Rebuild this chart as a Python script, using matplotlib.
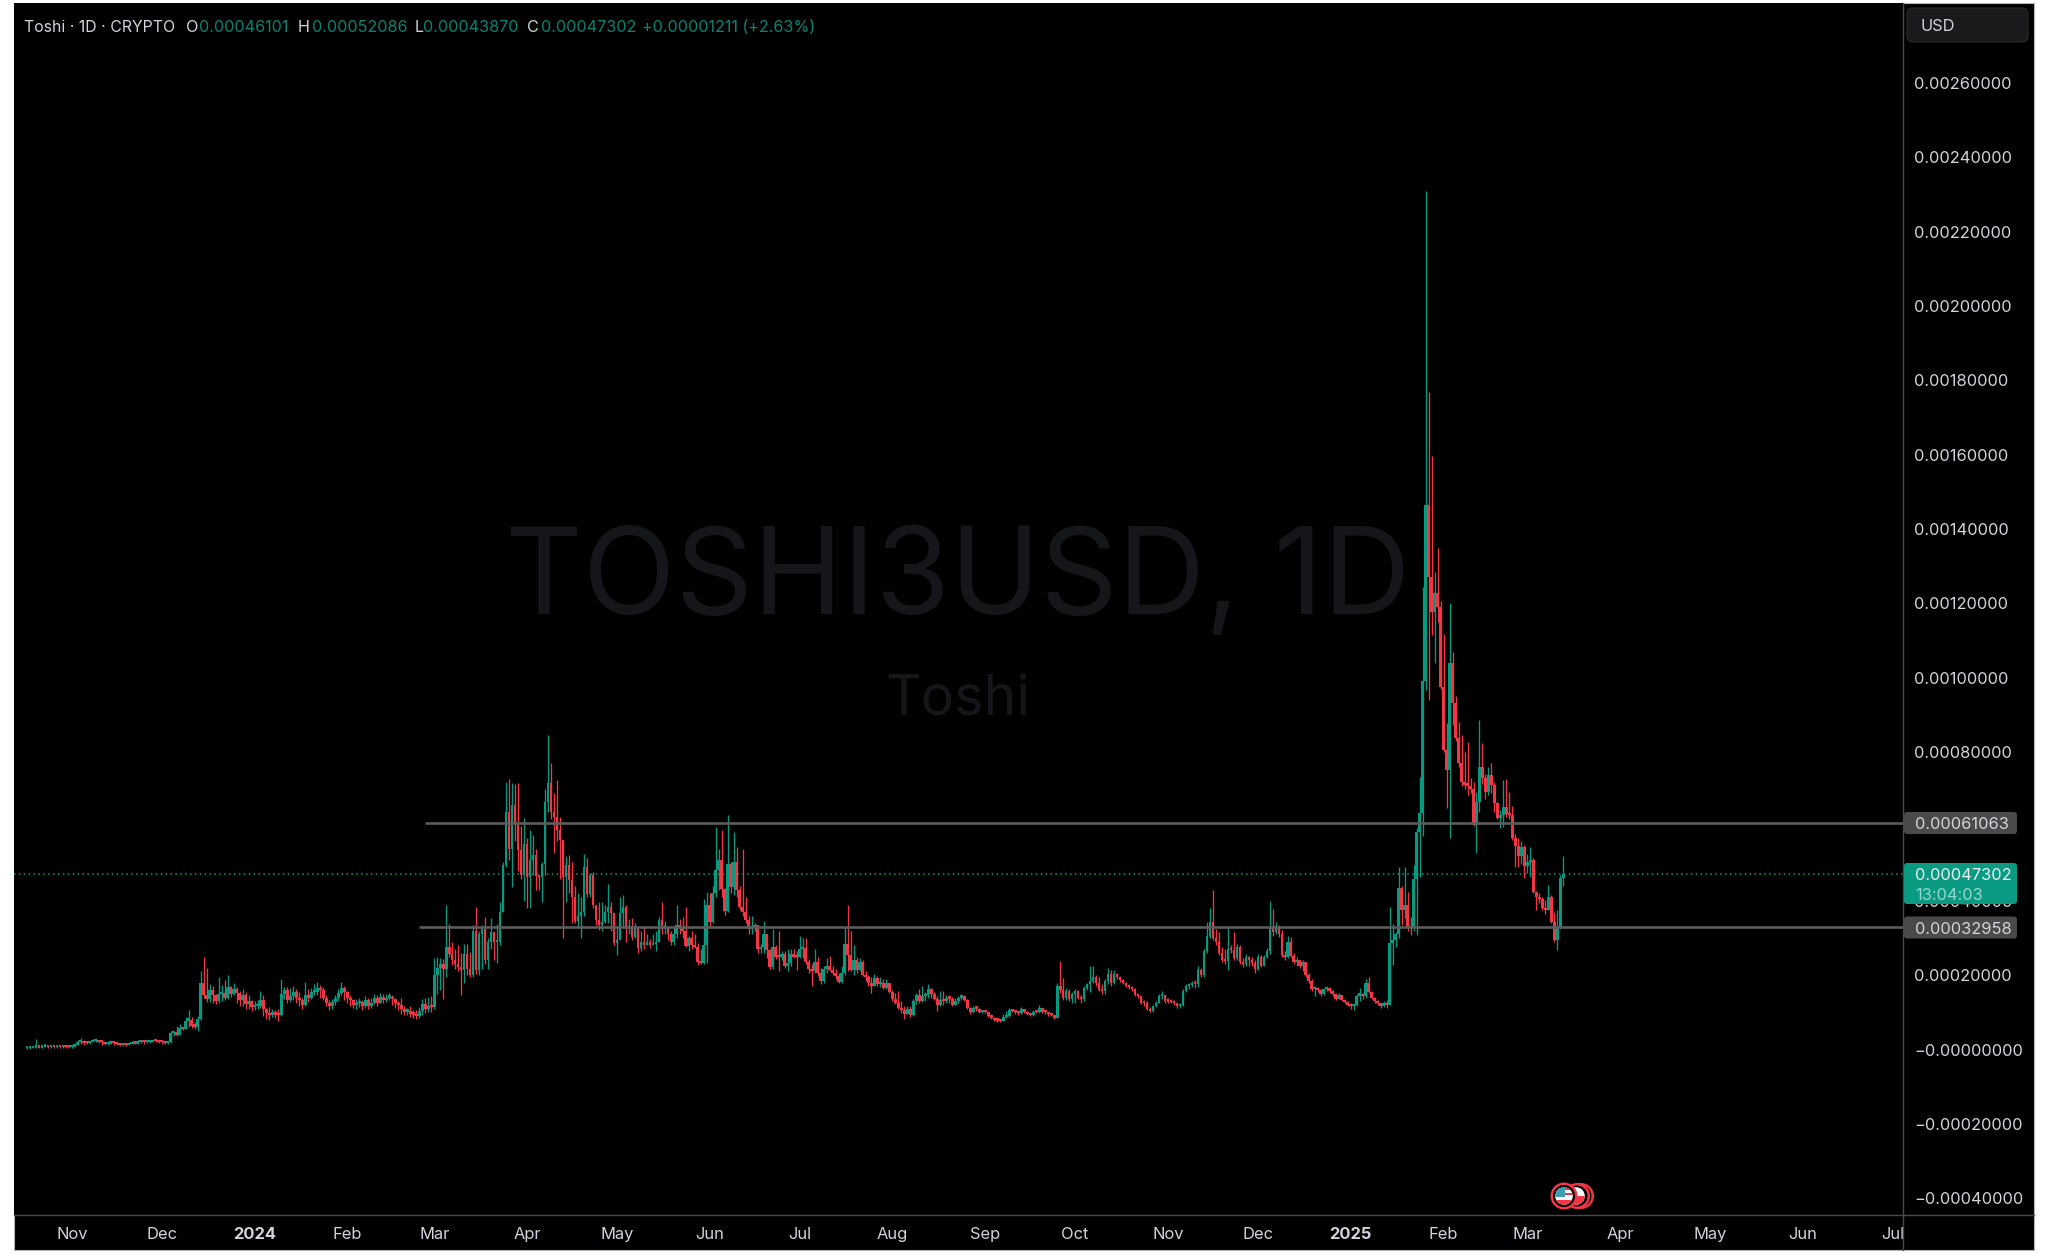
"""
Toshi / USD daily candles on a dark trading-terminal style chart.
Values are read off the picture, in units of 1e-5 USD.
"""
import matplotlib
matplotlib.use("Agg")
import matplotlib.dates as mdates
import matplotlib.pyplot as plt
import matplotlib.transforms as mtransforms
import numpy as np
import pandas as pd
from matplotlib.patches import Circle, FancyBboxPatch, Rectangle

plt.rcParams['font.family'] = ['Inter', 'DejaVu Sans']

closes = [
    0.4,0.4,0.5,0.6,0.5,0.8,0.9,0.7,0.8,0.6,
    0.7,0.6,0.8,0.7,0.6,0.8,1.3,2.1,2.3,1.8,
    1.7,2.0,2.3,2.5,2.1,1.9,1.5,1.6,1.8,1.7,
    1.4,1.2,1.3,1.2,1.5,1.7,1.6,2.0,2.2,1.9,
    1.9,2.1,2.3,2.2,2.0,1.9,1.8,1.9,4.4,4.5,
    4.0,5.8,5.6,7.8,8.0,6.4,6.2,8.2,18.0,14.8,
    13.5,16.0,14.8,13.0,14.9,15.2,14.0,16.8,15.0,16.2,
    15.2,13.2,14.6,12.2,13.0,11.4,11.6,11.8,13.2,10.8,
    9.8,9.2,10.0,9.4,9.2,15.0,16.0,13.4,14.4,15.6,
    13.8,13.2,12.0,14.6,14.0,15.4,15.6,16.6,16.0,14.0,
    12.4,11.6,12.8,14.0,15.2,16.6,15.4,14.0,13.2,12.0,
    12.4,12.8,11.8,13.2,11.8,12.6,13.8,12.6,14.2,13.4,
    14.0,14.2,13.6,12.4,12.0,10.8,10.2,10.4,9.6,9.4,
    9.0,10.4,12.2,11.0,11.6,11.4,20.0,22.0,23.0,21.6,
    27.6,25.8,24.0,23.0,22.2,21.4,25.8,21.8,20.0,32.0,
    21.3,31.0,32.5,24.0,28.8,31.6,29.0,29.0,37.0,49.6,
    64.0,54.0,65.7,60.8,53.6,47.0,55.4,46.5,51.0,52.3,
    46.8,46.4,50.0,66.6,71.6,64.0,62.5,59.0,56.3,46.5,
    49.6,45.6,41.0,34.5,36.0,37.0,49.0,41.9,47.0,38.8,
    34.8,33.6,34.4,37.0,38.4,36.6,28.6,29.4,36.6,38.4,
    32.6,33.0,30.4,33.0,27.3,29.0,28.2,29.0,28.0,28.4,
    29.0,34.8,33.0,33.0,31.0,28.8,31.0,33.6,32.8,31.8,
    27.8,30.0,28.0,27.6,23.6,23.2,28.0,38.8,34.2,42.0,
    48.2,51.0,43.3,37.4,50.0,43.6,50.5,42.9,38.4,37.0,
    34.8,32.5,33.0,33.6,27.0,27.6,31.0,26.7,22.2,27.6,
    25.0,24.8,25.6,22.6,23.4,25.6,25.0,24.8,27.0,27.2,
    23.6,21.6,21.2,23.5,20.5,18.5,21.6,22.5,21.5,20.6,
    19.8,18.2,20.7,28.5,25.5,21.5,24.0,21.5,23.6,20.0,
    19.5,18.0,17.1,19.2,17.6,17.8,16.5,18.0,15.5,13.5,
    12.6,11.2,10.7,9.5,11.0,9.2,13.0,14.8,13.0,14.4,
    14.6,16.2,15.0,13.5,12.0,13.2,13.0,14.0,13.7,12.1,
    13.0,14.0,14.4,13.3,11.2,10.2,11.3,11.0,10.0,10.1,
    10.0,9.0,8.6,7.9,7.8,7.7,8.8,9.0,10.6,10.4,
    10.0,9.7,10.9,10.1,9.6,9.2,10.2,10.0,11.2,10.2,
    10.0,9.5,9.2,8.6,17.0,16.0,13.9,15.8,13.6,15.0,
    15.7,14.0,13.6,16.5,17.5,18.5,19.6,18.0,16.0,15.8,
    18.5,20.4,17.8,20.3,19.5,18.8,18.0,17.2,16.7,16.3,
    14.6,14.3,12.6,12.4,11.0,10.4,11.7,12.6,14.4,14.6,
    13.0,12.9,12.8,12.4,11.6,12.0,15.8,17.0,17.3,18.0,
    17.5,21.5,20.0,26.5,30.6,34.2,30.0,29.0,26.0,24.0,
    23.8,27.0,26.8,24.5,27.5,23.5,23.0,24.8,24.0,23.4,
    21.6,25.0,22.5,25.0,26.5,33.0,31.5,33.2,31.0,25.5,
    24.8,29.0,25.2,23.5,24.0,22.5,23.5,20.0,18.5,16.2,
    16.5,16.0,15.0,16.2,16.5,15.8,15.0,13.7,14.6,13.4,
    12.8,12.0,11.6,12.0,14.5,14.8,14.4,18.0,15.5,14.0,
    13.0,12.4,11.7,12.6,12.0,28.6,29.6,31.0,43.4,37.5,
    38.9,33.0,32.6,46.0,58.6,63.5,99.0,146.5,127.0,117.8,
    122.7,119.0,97.6,80.6,75.2,104.0,93.1,83.7,77.0,72.0,
    71.2,71.0,70.0,60.4,66.7,76.1,73.0,69.4,73.9,71.2,
    66.2,62.2,63.0,65.3,63.4,63.0,56.8,54.8,52.0,54.6,
    49.5,50.5,51.0,42.5,41.0,40.5,38.0,37.6,41.0,34.4,
    29.6,33.0,46.101,47.302,
]
highs = [
    0.6,0.7,0.7,2.8,0.9,1.3,1.1,1.0,1.0,0.9,
    0.9,0.9,1.0,1.0,0.9,1.0,1.6,2.7,3.0,2.6,
    2.1,2.4,2.8,3.0,2.7,2.3,2.0,1.9,2.0,2.0,
    1.7,1.5,1.6,1.5,1.8,2.0,2.1,2.5,2.7,2.4,
    2.2,2.4,2.6,2.5,2.3,2.1,2.0,2.1,4.9,4.8,
    6.4,6.8,6.2,8.8,10.6,8.8,7.4,9.0,21.0,25.0,
    22.0,17.6,17.2,15.0,19.4,17.4,18.6,20.0,17.2,17.8,
    16.8,15.8,16.2,15.6,14.6,13.2,13.0,13.4,15.8,14.8,
    11.2,11.4,11.0,10.6,10.8,19.0,16.8,16.8,16.6,17.0,
    16.4,15.4,13.8,18.2,16.4,16.6,17.6,18.2,17.4,16.8,
    14.6,13.4,13.6,14.6,16.2,18.2,17.2,15.8,14.6,13.6,
    13.6,14.0,13.4,14.4,14.0,13.8,15.0,14.6,15.2,15.0,
    15.0,15.2,14.8,13.8,13.0,13.8,11.6,11.2,11.8,10.6,
    10.6,11.4,13.6,14.0,14.2,14.4,24.6,25.0,24.6,24.4,
    38.8,33.9,29.0,27.0,28.0,26.0,28.4,28.4,26.2,33.4,
    38.4,32.0,33.6,35.7,30.0,35.4,31.0,33.8,39.8,50.4,
    72.0,72.8,71.6,71.5,71.6,60.0,62.2,57.0,59.0,57.8,
    54.0,47.0,50.5,70.0,84.6,77.0,69.0,72.5,62.5,56.3,
    52.0,52.3,50.5,44.0,42.0,41.0,52.7,51.5,47.6,47.8,
    39.0,39.6,39.8,39.0,44.6,39.6,35.2,33.0,41.0,41.6,
    39.0,35.0,35.4,34.0,31.0,32.0,33.0,31.0,29.8,31.0,
    32.0,35.6,39.8,34.6,33.0,32.0,33.0,38.9,35.0,35.6,
    38.4,30.5,32.0,31.0,28.6,27.0,40.6,42.4,42.2,44.0,
    59.9,54.0,59.0,43.5,63.0,50.5,58.5,54.5,44.0,54.0,
    41.0,36.0,36.0,34.0,32.8,28.5,34.6,30.5,27.0,32.4,
    28.0,32.0,26.5,26.5,27.0,27.0,27.0,26.5,30.6,30.0,
    30.0,24.3,23.0,27.0,25.0,22.0,22.5,24.5,25.2,22.4,
    21.6,20.7,22.5,32.8,38.8,32.0,28.0,24.8,24.5,24.0,
    21.0,20.0,19.5,20.3,19.8,19.5,18.9,18.9,17.5,16.0,
    15.3,15.8,13.0,11.7,11.6,11.7,13.5,15.3,16.2,17.1,
    15.6,17.6,16.6,15.4,14.4,15.7,15.7,14.8,14.4,14.1,
    13.8,14.4,15.0,14.3,13.5,11.4,11.8,11.7,11.2,10.5,
    10.4,10.2,9.6,8.8,8.2,8.3,9.5,10.5,11.2,11.0,
    10.6,10.4,11.5,11.0,10.4,9.8,10.6,10.5,12.0,11.3,
    10.4,10.2,9.7,9.3,17.8,23.9,19.3,16.6,16.2,15.5,
    16.3,16.0,14.6,17.0,18.0,22.5,22.4,20.0,19.5,17.5,
    19.0,22.0,21.5,21.4,20.7,19.8,19.0,18.3,17.5,17.0,
    16.5,14.9,14.5,13.2,13.0,11.4,12.0,13.0,15.0,15.7,
    14.6,14.0,13.6,13.2,12.6,12.4,16.2,17.6,18.0,18.5,
    18.8,22.5,22.0,27.0,34.2,38.0,43.0,32.5,31.5,27.5,
    27.0,33.0,28.0,31.5,28.5,28.0,24.6,25.6,25.2,25.0,
    24.0,25.6,25.3,25.4,27.2,40.0,37.8,34.3,33.5,32.2,
    26.5,30.5,30.2,26.0,25.0,24.0,24.0,23.6,20.5,19.0,
    17.0,16.8,16.3,16.6,17.0,16.8,16.0,15.2,15.2,14.8,
    13.6,13.0,12.4,12.3,15.0,16.5,15.3,19.0,19.5,15.8,
    14.2,13.4,12.6,13.0,13.4,38.4,33.9,31.5,49.2,44.0,
    49.2,42.5,35.7,49.6,59.5,73.4,124.4,231.0,177.0,159.6,
    128.5,135.0,120.6,111.7,87.8,120.0,106.9,95.0,88.2,84.6,
    80.0,82.8,73.0,72.0,69.4,88.7,82.4,74.0,76.0,77.2,
    72.0,66.5,64.5,72.5,72.7,69.2,65.6,58.0,57.0,56.0,
    55.0,52.5,54.6,51.4,42.7,42.0,41.0,40.2,44.3,41.5,
    37.0,37.5,47.0,52.086,
]
lows = [
    0.2,0.2,0.3,0.3,0.3,0.4,0.6,0.5,0.5,0.4,
    0.4,0.4,0.5,0.5,0.4,0.5,0.7,1.2,1.6,1.3,
    1.4,1.6,1.9,2.0,1.7,1.3,1.2,1.3,1.5,1.3,
    1.1,1.0,1.0,1.0,1.1,1.4,1.4,1.5,1.8,1.6,
    1.7,1.8,2.0,1.9,1.8,1.6,1.6,1.6,1.7,3.6,
    3.6,3.9,5.2,5.6,6.0,5.8,5.4,4.9,7.9,14.0,
    12.7,12.9,12.4,12.3,12.6,13.0,13.4,13.6,14.2,14.6,
    12.6,11.8,11.6,11.0,11.0,10.4,10.6,10.8,11.2,9.0,
    8.2,8.0,8.8,8.4,7.8,9.1,13.6,12.4,12.8,13.2,
    12.6,11.6,11.0,11.6,12.8,13.6,14.6,14.8,14.0,13.4,
    11.6,10.6,11.0,12.0,13.0,14.6,13.2,12.6,11.6,11.2,
    11.0,11.4,10.6,11.2,10.8,11.2,12.2,11.8,12.4,12.6,
    12.8,13.2,12.0,11.2,10.6,9.6,9.4,9.2,8.8,8.4,
    8.2,8.6,9.4,9.8,10.0,10.2,11.0,15.0,16.0,13.6,
    19.5,24.8,22.8,21.8,21.0,14.6,17.8,20.0,19.6,19.6,
    20.4,20.0,21.6,23.0,21.6,27.0,24.0,23.4,28.2,37.0,
    49.0,51.0,43.8,56.0,48.0,46.0,40.0,38.0,38.0,47.0,
    42.9,43.0,39.7,47.0,64.0,62.0,52.8,56.0,46.0,29.9,
    39.7,42.0,34.0,34.0,33.0,29.9,36.0,41.0,41.0,38.0,
    33.4,32.2,31.8,34.0,34.0,32.0,28.0,25.4,30.0,33.0,
    29.0,31.0,29.5,30.0,26.0,26.4,27.0,28.0,27.4,28.0,
    26.4,29.0,31.0,31.0,29.4,28.0,28.0,30.0,31.0,30.0,
    27.6,26.6,27.0,27.4,22.8,23.0,23.0,23.4,33.0,34.0,
    41.0,43.0,41.0,36.3,37.0,42.0,41.5,41.0,37.5,36.0,
    34.0,31.0,31.0,32.0,26.0,26.0,26.0,24.6,21.6,21.6,
    24.4,21.0,24.0,22.0,21.0,22.6,24.5,21.4,24.7,24.7,
    23.0,20.7,17.1,20.7,19.8,17.5,18.0,20.7,21.0,20.0,
    19.0,18.0,18.0,20.0,21.0,21.0,20.0,20.7,21.0,19.8,
    18.5,17.0,15.3,17.0,17.0,16.8,16.2,16.2,15.2,13.0,
    12.2,10.8,9.9,8.2,9.5,8.8,9.0,12.3,12.6,12.8,
    13.0,13.8,13.8,13.2,10.5,11.7,11.9,12.6,12.6,11.7,
    11.9,12.6,13.4,13.0,10.8,9.6,9.9,10.5,9.9,9.7,
    9.7,8.8,8.3,7.7,7.5,7.4,7.7,8.6,8.8,10.0,
    9.5,9.4,9.6,9.8,9.3,8.9,9.0,9.7,9.8,9.8,
    9.5,9.0,8.9,8.2,8.5,15.3,13.3,13.4,13.0,12.6,
    12.4,13.6,12.4,13.0,16.0,15.6,17.8,17.0,15.8,15.0,
    15.0,17.5,17.0,17.6,19.0,18.3,17.7,16.9,16.4,15.8,
    14.3,13.8,12.3,11.8,10.6,10.0,10.2,11.4,12.4,13.6,
    12.6,12.6,12.5,12.0,11.2,11.2,11.8,15.4,16.2,16.8,
    16.5,16.8,19.5,19.6,26.0,30.0,29.5,28.0,25.5,23.6,
    23.0,21.3,26.0,24.0,24.0,23.0,22.2,22.6,22.5,22.6,
    20.7,21.4,22.2,22.6,24.5,25.6,30.5,31.0,30.4,25.0,
    24.0,24.5,25.0,23.0,22.5,22.0,21.0,19.6,18.0,15.8,
    14.5,15.5,14.5,14.8,15.8,15.2,14.5,13.3,13.5,13.0,
    12.4,11.6,11.0,10.6,11.6,13.0,13.5,14.0,15.2,13.5,
    12.6,12.0,11.3,11.4,11.3,12.0,22.7,27.6,30.0,33.5,
    35.5,32.0,30.8,32.0,30.8,46.5,57.5,96.7,94.0,111.5,
    104.0,115.0,97.0,80.0,64.9,56.8,87.3,83.0,76.0,71.0,
    70.0,68.5,69.0,60.0,52.8,64.0,71.5,67.3,68.5,69.0,
    64.0,62.0,59.5,59.8,62.5,62.0,56.4,49.0,49.0,50.0,
    46.2,47.5,46.5,42.0,37.5,39.5,37.5,36.5,37.5,34.0,
    29.0,26.9,32.5,43.87,
]

# 0.0006 sits fully under the resistance tag, so it has no label here
price_ticks = [0.0026, 0.0024, 0.0022, 0.0020, 0.0018, 0.0016, 0.0014, 0.0012,
               0.0010, 0.0008, 0.0004, 0.0002, 0.0, -0.0002, -0.0004]
price_labels = ['0.00260000', '0.00240000', '0.00220000', '0.00200000', '0.00180000',
                '0.00160000', '0.00140000', '0.00120000', '0.00100000', '0.00080000',
                '0.00040000', '0.00020000', '\u22120.00000000',
                '\u22120.00020000', '\u22120.00040000']
month_ticks = ['2023-11-01', '2023-12-01', '2024-01-01', '2024-02-01', '2024-03-01',
               '2024-04-01', '2024-05-01', '2024-06-01', '2024-07-01', '2024-08-01',
               '2024-09-01', '2024-10-01', '2024-11-01', '2024-12-01', '2025-01-01',
               '2025-02-01', '2025-03-01', '2025-04-01', '2025-05-01', '2025-06-01',
               '2025-07-01']
month_labels = ['Nov', 'Dec', '2024', 'Feb', 'Mar', 'Apr', 'May', 'Jun', 'Jul', 'Aug',
                'Sep', 'Oct', 'Nov', 'Dec', '2025', 'Feb', 'Mar', 'Apr', 'May', 'Jun', 'Jul']
resistance = 0.00061063
support = 0.00032958
last_price = 0.00047302

GREEN = '#089981'
RED = '#f23645'
TEXT = '#d1d4dc'
LINE = '#4a4a4a'
W, H = 2048, 1253
PANEL_X = 1903
AXIS_Y = 1215
AXIS_FONT = 11.85

fig = plt.figure(figsize=(W / 100, H / 100), dpi=100, facecolor='white')
pixels = mtransforms.IdentityTransform()


def px_y(y):
    return H - y


# black page behind everything
fig.add_artist(Rectangle((14, px_y(1250)), 2034 - 14, 1250 - 3, transform=pixels,
                         facecolor='black', edgecolor='#b4b4b4', linewidth=0.8, zorder=-1))

ax = fig.add_axes([14 / W, (H - AXIS_Y) / H, (PANEL_X - 14) / W, (AXIS_Y - 3) / H])
ax.set_facecolor('black')

dates = pd.date_range('2023-10-17', periods=len(closes))
x = mdates.date2num(dates)
c = np.array(closes) * 1e-5
hi = np.array(highs) * 1e-5
lo = np.array(lows) * 1e-5
o = np.concatenate([c[:1], c[:-1]])
colors = [GREEN if a >= b else RED for a, b in zip(c, o)]

ax.vlines(x, lo, hi, colors=colors, linewidth=0.95, zorder=3)
ax.bar(x, np.maximum(np.abs(c - o), 0.000006), bottom=np.minimum(c, o), width=0.88,
       color=colors, linewidth=0, zorder=3)

ax.set_xlim(x[0] - 4.3, x[0] + 626.4)
ax.set_ylim(-0.000445, 0.002815)

# watermark
ax.text(0.4993, 0.5215, 'TOSHI3USD, 1D', transform=ax.transAxes, ha='center', va='center',
        fontsize=87, color='#15161a', zorder=1)
ax.text(0.4997, 0.4255, 'Toshi', transform=ax.transAxes, ha='center', va='center',
        fontsize=40, color='#15161a', zorder=1)

# level lines
ax.hlines(resistance, mdates.datestr2num('2024-02-27'), ax.get_xlim()[1],
          colors='#5c5c5c', linewidth=1.9, zorder=4)
ax.hlines(support, mdates.datestr2num('2024-02-25'), ax.get_xlim()[1],
          colors='#5c5c5c', linewidth=1.9, zorder=4)
ax.axhline(last_price, color=GREEN, linewidth=1.1, linestyle=(0, (1, 2.2)), zorder=2)

for side in ['top', 'left']:
    ax.spines[side].set_visible(False)
ax.spines['right'].set_color(LINE)
ax.spines['bottom'].set_color(LINE)
ax.spines['right'].set_linewidth(1.0)
ax.spines['bottom'].set_linewidth(1.0)

ax.yaxis.tick_right()
ax.set_yticks(price_ticks)
ax.set_yticklabels(price_labels)
ax.tick_params(axis='y', length=0, pad=8.2, labelsize=AXIS_FONT, labelcolor=TEXT)
ax.set_xticks(mdates.datestr2num(month_ticks))
ax.set_xticklabels(month_labels)
ax.tick_params(axis='x', length=0, pad=8.8, labelsize=AXIS_FONT, labelcolor=TEXT)
for lab in ax.get_xticklabels():
    if lab.get_text() in ('2024', '2025'):
        lab.set_fontweight('bold')
# the last month label runs under the price column
clip_bar = mtransforms.TransformedBbox(mtransforms.Bbox([[0, 0], [PANEL_X, H]]), pixels)
last_lab = ax.get_xticklabels()[-1]
last_lab.set_clip_box(clip_bar)
last_lab.set_clip_on(True)

# axis line runs on under the price column
fig.add_artist(plt.Line2D([PANEL_X, 2034], [px_y(AXIS_Y)] * 2, transform=pixels,
                          color=LINE, linewidth=1.0, zorder=1))
fig.add_artist(plt.Line2D([PANEL_X, PANEL_X], [px_y(AXIS_Y), px_y(1250)], transform=pixels,
                          color=LINE, linewidth=1.0, zorder=1))


def price_box(y0, y1, face):
    fig.add_artist(FancyBboxPatch((PANEL_X + 1, px_y(y1)), 113, y1 - y0, transform=pixels,
                                  boxstyle='round,pad=0,rounding_size=3', facecolor=face,
                                  edgecolor='none', zorder=5))


def panel_text(px, py, s, color=TEXT, size=AXIS_FONT, ha='left', **kw):
    fig.text(px / W, (H - py) / H, s, color=color, fontsize=size, ha=ha, va='center',
             zorder=6, **kw)


price_box(812, 834, '#4a4a4a')
price_box(916.5, 938.5, '#4a4a4a')
price_box(863, 904, '#0a9b82')
panel_text(1915, 824.5, '0.00061063')
panel_text(1915, 929.5, '0.00032958')
panel_text(1915, 876, '0.00047302', color='#e8f5f2')
panel_text(1915, 895, '13:04:03', color='#93d8ca')

# currency button
fig.add_artist(FancyBboxPatch((1907, px_y(42)), 121, 34, transform=pixels,
                              boxstyle='round,pad=0,rounding_size=6', facecolor='#1a1a1c',
                              edgecolor='#2a2a2c', linewidth=0.8, zorder=5))
panel_text(1920, 26.5, 'USD', size=11.8)

# header row
panel_text(24, 28, 'Toshi \u00b7 1D \u00b7 CRYPTO', size=11.4)
HEAD_GREEN = '#0b8271'
for px, s, col in [(186, 'O', TEXT), (199, '0.00046101', HEAD_GREEN), (298, 'H', TEXT),
                   (312, '0.00052086', HEAD_GREEN), (415, 'L', TEXT), (423, '0.00043870', HEAD_GREEN),
                   (527, 'C', TEXT), (541, '0.00047302', HEAD_GREEN),
                   (642, '+0.00001211 (+2.63%)', HEAD_GREEN)]:
    panel_text(px, 28, s, color=col, size=11.65)


# event badge: two hidden behind one flag
def badge_circle(cx, r, face, z):
    patch = Circle((cx, px_y(1196)), r, transform=pixels, facecolor=face, edgecolor='none',
                   zorder=z)
    fig.add_artist(patch)
    return patch


badge_circle(1581, 13, RED, 5)
badge_circle(1581, 10.5, 'black', 5.1)
badge_circle(1577, 13, RED, 5.2)
badge_circle(1577, 10.5, 'black', 5.3)
back = badge_circle(1576, 8.8, 'white', 5.35)
r = Rectangle((1566, px_y(1207)), 20, 11, transform=pixels, facecolor=RED, zorder=5.36)
fig.add_artist(r)
r.set_clip_path(back)
badge_circle(1564, 13.5, RED, 5.4)
badge_circle(1564, 11, 'black', 5.5)
flag = badge_circle(1564, 8.8, 'white', 5.6)
for sy, col, h in [(1187, RED, 2.6), (1192.5, RED, 2.2), (1200, RED, 6)]:
    r = Rectangle((1554, px_y(sy + h)), 20, h, transform=pixels, facecolor=col, zorder=5.7)
    fig.add_artist(r)
    r.set_clip_path(flag)
r = Rectangle((1554, px_y(1196.5)), 10.5, 10, transform=pixels, facecolor='#3c9fb4', zorder=5.8)
fig.add_artist(r)
r.set_clip_path(flag)

fig.savefig('out.png', dpi=100, facecolor='white')
